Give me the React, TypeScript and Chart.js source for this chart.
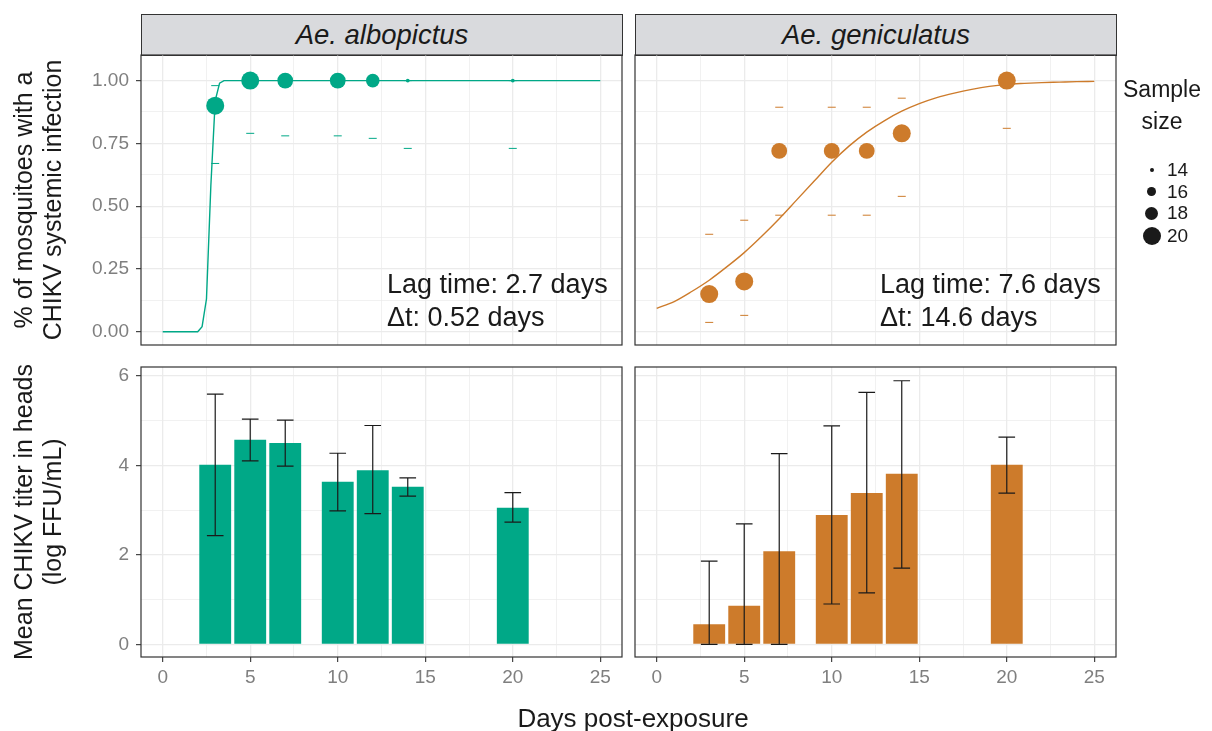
import React, { useEffect, useRef } from "react";
import { Chart, registerables } from "chart.js";

Chart.register(...registerables);

const W = 1212;
const H = 731;
const FONT = '"Liberation Sans", Arial, Helvetica, sans-serif';
const TEAL = "#00A887";
const ORANGE = "#CD7B2B";
const TICK_COLOR = "#7F7F7F";
const TEXT = "#1A1A1A";
const FRAME = "#333333";
const GRID = "#EBEBEB";

// ---------------- data ----------------
const species = ["Ae. albopictus", "Ae. geniculatus"];
const days = [3, 5, 7, 10, 12, 14, 20];

// infection proportion (top row)
const albProp = [0.9, 1.0, 1.0, 1.0, 1.0, 1.0, 1.0];
const albN = [20, 20, 19, 19, 18, 14, 14];
const albLow = [0.67, 0.79, 0.78, 0.78, 0.77, 0.73, 0.73];
const albHigh = [0.98, 1.0, 1.0, 1.0, 1.0, 1.0, 1.0];
const albFitX = [0, 1, 2, 2.25, 2.5, 2.75, 3, 3.25, 3.5, 4, 25];
const albFitY = [0, 0, 0.0, 0.02, 0.13, 0.58, 0.92, 0.99, 1.0, 1.0, 1.0];

const genProp = [0.15, 0.2, 0.72, 0.72, 0.72, 0.79, 1.0];
const genN = [20, 20, 19, 19, 19, 20, 20];
const genLow = [0.037, 0.065, 0.464, 0.464, 0.464, 0.539, 0.81];
const genHigh = [0.388, 0.444, 0.894, 0.894, 0.894, 0.93, 1.0];
const genFitX = [0, 1, 2, 3, 4, 5, 6, 7, 8, 9, 10, 11, 12, 13, 14, 15, 16, 17, 18, 19, 20, 21, 22, 23, 24, 25];
const genFitY = [
  0.093, 0.12, 0.16, 0.205, 0.258, 0.315, 0.38, 0.45, 0.525, 0.6, 0.675, 0.74, 0.795, 0.84, 0.878,
  0.908, 0.932, 0.95, 0.965, 0.977, 0.985, 0.989, 0.992, 0.994, 0.996, 0.997,
];

// titer (bottom row)
const albTiter = [4.01, 4.57, 4.5, 3.63, 3.89, 3.52, 3.05];
const albTiterLow = [2.43, 4.1, 3.98, 2.98, 2.92, 3.31, 2.73];
const albTiterHigh = [5.59, 5.03, 5.01, 4.27, 4.89, 3.72, 3.39];
const genTiter = [0.45, 0.86, 2.08, 2.89, 3.38, 3.81, 4.01];
const genTiterLow = [0, 0, 0, 0.9, 1.15, 1.7, 3.38];
const genTiterHigh = [1.86, 2.69, 4.26, 4.88, 5.63, 5.89, 4.63];

// ticks / labels
const xMajor = [0, 5, 10, 15, 20, 25];
const xLabels = ["0", "5", "10", "15", "20", "25"];
const propMajor = [0, 0.25, 0.5, 0.75, 1];
const propLabels = ["0.00", "0.25", "0.50", "0.75", "1.00"];
const titerMajor = [0, 2, 4, 6];
const titerLabels = ["0", "2", "4", "6"];
const legendN = [14, 16, 18, 20];
const lagLines = [
  ["Lag time: 2.7 days", "Δt: 0.52 days"],
  ["Lag time: 7.6 days", "Δt: 14.6 days"],
];
const yTitleTop = ["% of mosquitoes with a", "CHIKV systemic infection"];
const yTitleBottom = ["Mean CHIKV titer in heads", "(log FFU/mL)"];
const xTitle = "Days post-exposure";
const legendTitle = ["Sample", "size"];

// ---------------- helpers ----------------
const N_MIN = 14;
const N_MAX = 20;
function radiusFor(n: number) {
  const f = (Math.sqrt(n) - Math.sqrt(N_MIN)) / (Math.sqrt(N_MAX) - Math.sqrt(N_MIN));
  const size = 1 + 5 * f;
  return 0.5 * (2.845 * size + 0.945);
}

type Area = { l: number; t: number; r: number; b: number };

function axis(o: {
  min: number;
  max: number;
  major: number[];
  labels: string[];
  show: boolean;
  size: number;
  isX: boolean;
}) {
  const minors = o.major.slice(1).map((v, i) => (v + o.major[i]) / 2);
  const all = [...o.major, ...minors].sort((a, b) => a - b);
  const isMajor = (v: number) => o.major.some((m) => Math.abs(m - v) < 1e-9);
  const labelOf = (v: number) => {
    const i = o.major.findIndex((m) => Math.abs(m - v) < 1e-9);
    return i >= 0 ? o.labels[i] : "";
  };
  return {
    type: "linear",
    min: o.min,
    max: o.max,
    offset: false,
    afterBuildTicks: (s: any) => {
      s.ticks = all.map((v) => ({ value: v }));
    },
    afterFit: (s: any) => {
      if (o.isX) s.height = o.size;
      else s.width = o.size;
    },
    grid: {
      color: GRID,
      offset: false,
      lineWidth: (c: any) => (c.tick && isMajor(c.tick.value) ? 1.3 : 0.7),
      drawTicks: o.show,
      tickLength: 5,
      tickWidth: 1.1,
      tickColor: (c: any) => (c.tick && isMajor(c.tick.value) ? FRAME : "rgba(0,0,0,0)"),
    },
    border: { display: false },
    ticks: {
      display: o.show,
      autoSkip: false,
      maxRotation: 0,
      minRotation: 0,
      padding: o.isX ? 4 : 7,
      color: TICK_COLOR,
      font: { family: FONT, size: 19 },
      callback: (v: any) => labelOf(Number(v)),
    },
  };
}

function decor(err?: { lo: number[]; hi: number[] }) {
  return {
    id: "decor",
    afterDatasetsDraw(chart: any) {
      const { ctx, chartArea: a, scales } = chart;
      ctx.save();
      if (err) {
        ctx.strokeStyle = "#1A1A1A";
        ctx.lineWidth = 1.2;
        days.forEach((d, i) => {
          const x = scales.x.getPixelForValue(d);
          const xl = scales.x.getPixelForValue(d - 0.475);
          const xr = scales.x.getPixelForValue(d + 0.475);
          const yl = scales.y.getPixelForValue(err.lo[i]);
          const yh = scales.y.getPixelForValue(err.hi[i]);
          ctx.beginPath();
          ctx.moveTo(x, yl);
          ctx.lineTo(x, yh);
          ctx.moveTo(xl, yl);
          ctx.lineTo(xr, yl);
          ctx.moveTo(xl, yh);
          ctx.lineTo(xr, yh);
          ctx.stroke();
        });
      }
      ctx.strokeStyle = FRAME;
      ctx.lineWidth = 1.2;
      ctx.strokeRect(a.left, a.top, a.right - a.left, a.bottom - a.top);
      ctx.restore();
    },
  };
}

const X_MIN = -1.24;
const X_MAX = 26.24;

function baseOptions(area: Area, yW: number, xH: number, scales: any) {
  return {
    responsive: false,
    animation: false,
    events: [],
    layout: {
      padding: { left: area.l - yW, right: W - area.r, top: area.t, bottom: H - area.b - xH },
    },
    plugins: { legend: { display: false }, tooltip: { enabled: false } },
    scales,
  };
}

function propConfig(area: Area, showY: boolean, color: string, prop: number[], n: number[], lo: number[], hi: number[], fx: number[], fy: number[], smooth: boolean) {
  const yW = showY ? 60 : 0;
  return {
    type: "scatter",
    data: {
      datasets: [
        {
          type: "scatter",
          data: days.map((d, i) => ({ x: d, y: prop[i] })),
          pointRadius: n.map(radiusFor),
          pointStyle: "circle",
          backgroundColor: color,
          borderWidth: 0,
          order: 0,
        },
        {
          type: "line",
          data: fx.map((x, i) => ({ x, y: fy[i] })),
          borderColor: color,
          borderWidth: 1.4,
          pointRadius: 0,
          fill: false,
          tension: smooth ? 0.4 : 0,
          cubicInterpolationMode: smooth ? "monotone" : "default",
          order: 1,
        },
        {
          type: "scatter",
          data: [...days.map((d, i) => ({ x: d, y: lo[i] })), ...days.map((d, i) => ({ x: d, y: hi[i] }))],
          pointStyle: "line",
          pointRadius: 4,
          borderColor: color,
          backgroundColor: color,
          borderWidth: 1,
          order: 2,
        },
      ],
    },
    options: baseOptions(area, yW, 0, {
      x: axis({ min: X_MIN, max: X_MAX, major: xMajor, labels: xLabels, show: false, size: 0, isX: true }),
      y: axis({ min: -0.053, max: 1.102, major: propMajor, labels: propLabels, show: showY, size: yW, isX: false }),
    }),
    plugins: [decor()],
  };
}

function titerConfig(area: Area, showY: boolean, color: string, vals: number[], lo: number[], hi: number[]) {
  const yW = showY ? 60 : 0;
  const xH = 40;
  return {
    type: "bar",
    data: {
      datasets: [
        {
          data: days.map((d, i) => ({ x: d, y: vals[i] })),
          backgroundColor: color,
          borderWidth: 0,
          barPercentage: 0.91,
          categoryPercentage: 1,
        },
      ],
    },
    options: baseOptions(area, yW, xH, {
      x: axis({ min: X_MIN, max: X_MAX, major: xMajor, labels: xLabels, show: true, size: xH, isX: true }),
      y: axis({ min: -0.284, max: 6.197, major: titerMajor, labels: titerLabels, show: showY, size: yW, isX: false }),
    }),
    plugins: [decor({ lo, hi })],
  };
}

const AREAS: Record<string, Area> = {
  tl: { l: 141, t: 55, r: 622, b: 345 },
  tr: { l: 635, t: 55, r: 1116, b: 345 },
  bl: { l: 141, t: 367, r: 622, b: 657 },
  br: { l: 635, t: 367, r: 1116, b: 657 },
};

function ChartCanvas({ build }: { build: () => any }) {
  const ref = useRef<HTMLCanvasElement>(null);
  useEffect(() => {
    const chart = new Chart(ref.current as HTMLCanvasElement, build());
    return () => chart.destroy();
  }, []);
  return (
    <canvas
      ref={ref}
      width={W}
      height={H}
      style={{ position: "absolute", left: 0, top: 0, width: W, height: H, pointerEvents: "none" }}
    />
  );
}

function RotatedTitle({ lines, cx, cy }: { lines: string[]; cx: number; cy: number }) {
  return (
    <div
      style={{
        position: "absolute",
        left: cx,
        top: cy,
        transform: "translate(-50%, -50%) rotate(-90deg)",
        whiteSpace: "nowrap",
        textAlign: "center",
        fontSize: 25,
        lineHeight: "29px",
        color: TEXT,
      }}
    >
      {lines.map((l, i) => (
        <div key={i}>{l}</div>
      ))}
    </div>
  );
}

export default function App() {
  const strips = [AREAS.tl, AREAS.tr];
  return (
    <div
      style={{
        position: "absolute",
        left: 0,
        top: 0,
        width: W,
        height: H,
        overflow: "hidden",
        background: "#FFFFFF",
        fontFamily: FONT,
      }}
    >
      {strips.map((a, i) => (
        <div
          key={i}
          style={{
            position: "absolute",
            left: a.l,
            top: 14,
            width: a.r - a.l + 1,
            height: a.t - 14 + 1,
            boxSizing: "border-box",
            background: "#D9DADD",
            border: `1.2px solid ${FRAME}`,
            display: "flex",
            alignItems: "center",
            justifyContent: "center",
            fontStyle: "italic",
            fontSize: 27.5,
            color: TEXT,
          }}
        >
          {species[i]}
        </div>
      ))}

      <ChartCanvas build={() => propConfig(AREAS.tl, true, TEAL, albProp, albN, albLow, albHigh, albFitX, albFitY, false)} />
      <ChartCanvas build={() => propConfig(AREAS.tr, false, ORANGE, genProp, genN, genLow, genHigh, genFitX, genFitY, true)} />
      <ChartCanvas build={() => titerConfig(AREAS.bl, true, TEAL, albTiter, albTiterLow, albTiterHigh)} />
      <ChartCanvas build={() => titerConfig(AREAS.br, false, ORANGE, genTiter, genTiterLow, genTiterHigh)} />

      {lagLines.map((ls, i) => (
        <div
          key={i}
          style={{
            position: "absolute",
            left: i === 0 ? 387 : 880,
            top: 268,
            fontSize: 27,
            lineHeight: "33.4px",
            color: TEXT,
            whiteSpace: "nowrap",
          }}
        >
          {ls.map((l, j) => (
            <div key={j}>{l}</div>
          ))}
        </div>
      ))}

      <RotatedTitle lines={yTitleTop} cx={37.5} cy={200} />
      <RotatedTitle lines={yTitleBottom} cx={37.5} cy={512} />

      <div
        style={{
          position: "absolute",
          left: 633 - 300,
          width: 600,
          top: 703,
          textAlign: "center",
          fontSize: 26,
          lineHeight: "30px",
          color: TEXT,
        }}
      >
        {xTitle}
      </div>

      <div
        style={{
          position: "absolute",
          left: 1162 - 60,
          width: 120,
          top: 73,
          textAlign: "center",
          fontSize: 23,
          lineHeight: "32px",
          color: TEXT,
        }}
      >
        {legendTitle.map((l, i) => (
          <div key={i}>{l}</div>
        ))}
      </div>

      {legendN.map((n, i) => {
        const yc = [170, 191.7, 213.3, 235.7][i];
        const r = radiusFor(n);
        return (
          <React.Fragment key={n}>
            <div
              style={{
                position: "absolute",
                left: 1151.7 - r,
                top: yc - r,
                width: 2 * r,
                height: 2 * r,
                borderRadius: "50%",
                background: "#1A1A1A",
              }}
            />
            <div
              style={{
                position: "absolute",
                left: 1167,
                top: yc - 10,
                height: 20,
                fontSize: 19,
                lineHeight: "20px",
                color: TEXT,
              }}
            >
              {String(n)}
            </div>
          </React.Fragment>
        );
      })}
    </div>
  );
}
